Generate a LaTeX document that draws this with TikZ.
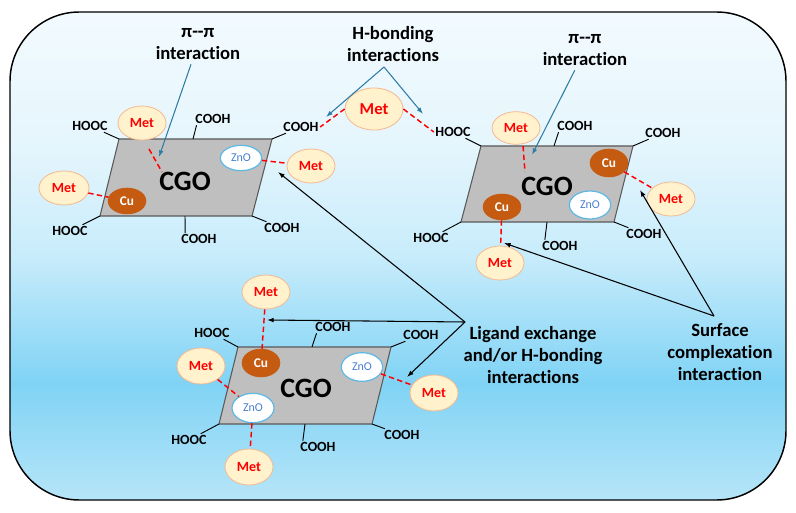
\documentclass[tikz,border=0pt]{standalone}
\usepackage{fontspec}
\setmainfont{Carlito}[Ligatures={NoCommon,NoRare,NoContextual,TeX},Contextuals=NoAlternate]
\usetikzlibrary{shapes.geometric,arrows.meta,calc}
\definecolor{bgB}{RGB}{182,229,248}
\definecolor{bgM}{RGB}{128,211,245}
\definecolor{bgC}{RGB}{200,236,251}
\definecolor{bgD}{RGB}{230,246,253}
\definecolor{bgT}{RGB}{242,250,254}
\definecolor{metF}{HTML}{FFF2CC}
\definecolor{metB}{HTML}{F5B88F}
\definecolor{cuF}{HTML}{C55A11}
\definecolor{znB}{HTML}{5CB8E6}
\definecolor{znT}{HTML}{4A7FD0}
\definecolor{plateF}{HTML}{BFBFBF}
\definecolor{plateB}{HTML}{595959}
\definecolor{arrB}{HTML}{2F7DA6}
\pgfdeclareverticalshading{bgshade}{100bp}{color(0bp)=(bgB); color(25bp)=(bgB); color(37bp)=(bgM); color(50bp)=(bgC); color(62bp)=(bgD); color(75bp)=(bgT); color(100bp)=(bgT)}
\begin{document}
\begin{tikzpicture}[x=0.75pt,y=-0.75pt,
  met/.style={ellipse, draw=metB, fill=metF, line width=0.6pt, inner sep=0pt,
    minimum width=36pt, minimum height=25.5pt, text=red,
    font=\bfseries\fontsize{10.5}{12}\selectfont},
  bigmet/.style={met, minimum width=43.5pt, minimum height=31.5pt,
    font=\bfseries\fontsize{12.5}{14}\selectfont},
  cu/.style={ellipse, fill=cuF, draw=cuF, inner sep=0pt, minimum width=28.5pt,
    minimum height=19.5pt, text=white, font=\bfseries\fontsize{10}{12}\selectfont},
  zno/.style={ellipse, draw=znB, fill=white, line width=0.9pt, inner sep=0pt,
    minimum width=31pt, minimum height=19pt, text=znT,
    font=\fontsize{9}{10}\selectfont},
  grp/.style={inner sep=1pt, font=\bfseries\fontsize{10.5}{12}\selectfont},
  tie/.style={draw=black, line width=0.7pt},
  plate/.style={fill=plateF, draw=plateB, line width=0.8pt},
  cgo/.style={font=\bfseries\fontsize{21}{24}\selectfont},
  lbl/.style={align=center, font=\bfseries\fontsize{14}{16.5}\selectfont},
  rdash/.style={draw=red, line width=1.1pt, dash pattern=on 4pt off 2.5pt},
  barr/.style={draw=arrB, line width=0.8pt, -{Latex[length=5pt,width=3.5pt]}},
  karr/.style={draw=black, line width=0.8pt, -{Latex[length=5pt,width=3.5pt]}}]
\useasboundingbox (0,0) rectangle (796,513);
\fill[white] (0,0) rectangle (796,513);
\path[shading=bgshade, draw=black, line width=1.1pt, rounded corners=52pt] (10,12) rectangle (786,500);

% ---------- top-left CGO ----------
\coordinate (a1) at (119,139); \coordinate (b1) at (272,139);
\coordinate (c1) at (252,216); \coordinate (d1) at (100,216);
\coordinate (e1) at (193,139); \coordinate (f1) at (185,216);
\path[plate] (a1)--(b1)--(c1)--(d1)--cycle;
\node[cgo] (cgo1) at (185,181) {CGO};
\node[met] (m1a) at (142,123) {Met};
\node[zno] (z1) at (241,158) {ZnO};
\node[met] (m1b) at (311,166) {Met};
\node[met, minimum width=37.5pt] (m1c) at (64,188) {Met};
\node[cu] (cu1) at (127,201) {Cu};
\node[grp] (g1a) at (90,126) {HOOC};
\node[grp] (g1b) at (213,119) {COOH};
\node[grp] (g1c) at (301,127) {COOH};
\node[grp] (g1d) at (70,231) {HOOC};
\node[grp] (g1e) at (199,239) {COOH};
\node[grp] (g1f) at (282,228) {COOH};
\draw[tie] (g1a) -- (a1);
\draw[tie] ([xshift=2pt]g1b.south west) -- (e1);
\draw[tie] (g1c) -- (b1);
\draw[tie] (g1d) -- (d1);
\draw[tie] ([xshift=4pt]g1e.north west) -- (f1);
\draw[tie] (g1f) -- (c1);
\coordinate (pp1s) at (149,149); \coordinate (pp1e) at (162,172);
\draw[rdash] (pp1s) -- (pp1e);
\draw[rdash] (z1) -- (m1b);
\draw[rdash] (m1c) -- (cu1);
\node[lbl] (L1) at (198,44) {π-{}-π\\interaction};
\coordinate (p1) at (159,157);
\draw[barr] (L1) -- (p1);

% ---------- H-bonding ----------
\node[lbl] (L3) at (393,44) {H-bonding\\interactions};
\node[bigmet] (mh) at (374,109) {Met};
\coordinate (hb) at (384,67);
\coordinate (hl) at (326,117);
\coordinate (hr) at (423,114);

% ---------- top-right CGO ----------
\coordinate (a2) at (481,146); \coordinate (b2) at (633,146);
\coordinate (c2) at (614,222); \coordinate (d2) at (461,222);
\coordinate (e2) at (554,146); \coordinate (f2) at (547,222);
\path[plate] (a2)--(b2)--(c2)--(d2)--cycle;
\node[cgo] (cgo2) at (547,186) {CGO};
\node[met, minimum height=24.5pt] (m2a) at (516,128) {Met};
\node[cu, minimum height=21pt] (cu2a) at (609,163) {Cu};
\node[met] (m2b) at (671,199) {Met};
\node[zno, minimum height=21pt] (z2) at (590,205) {ZnO};
\node[cu] (cu2b) at (502,207) {Cu};
\node[met] (m2c) at (500,263) {Met};
\node[grp] (g2a) at (453,132) {HOOC};
\node[grp] (g2b) at (575,126) {COOH};
\node[grp] (g2c) at (663,133) {COOH};
\node[grp] (g2d) at (431,238) {HOOC};
\node[grp] (g2e) at (560,246) {COOH};
\node[grp] (g2f) at (644,234) {COOH};
\draw[tie] (g2a) -- (a2);
\draw[tie] ([xshift=2pt]g2b.south west) -- (e2);
\draw[tie] (g2c) -- (b2);
\draw[tie] (g2d) -- (d2);
\draw[tie] ([xshift=3pt]g2e.north west) -- (f2);
\draw[tie] (g2f) -- (c2);
\coordinate (pp2s) at (523,146); \coordinate (pp2e) at (525,172);
\draw[rdash] (pp2s) -- (pp2e);
\draw[rdash] (cu2a) -- (m2b);
\draw[rdash] (cu2b) -- (m2c);
\node[lbl] (L2) at (585,50) {π-{}-π\\interaction};
\coordinate (p2) at (532,155);
\draw[barr] (L2) -- (p2);

% H-bond connectors
\draw[rdash] (mh.west) -- (g1c.east);
\draw[rdash] (mh.east) -- (g2a.west);
\draw[barr] (hb) -- (hl);
\draw[barr] (hb) -- (hr);

% ---------- bottom CGO ----------
\coordinate (a3) at (238,347); \coordinate (b3) at (391,347);
\coordinate (c3) at (372,424); \coordinate (d3) at (219,424);
\coordinate (e3) at (312,347); \coordinate (f3) at (305,424);
\path[plate] (a3)--(b3)--(c3)--(d3)--cycle;
\node[cgo] (cgo3) at (306,388) {CGO};
\node[cu, minimum height=21pt] (cu3) at (261,363) {Cu};
\node[met] (m3a) at (266,292) {Met};
\node[zno, minimum height=21.5pt] (z3a) at (362,367) {ZnO};
\node[met, minimum height=27pt] (m3b) at (434,393) {Met};
\node[met, minimum height=27pt] (m3c) at (201,366) {Met};
\node[zno, minimum width=31.5pt, minimum height=22pt] (z3b) at (253,408) {ZnO};
\node[met, minimum height=27pt] (m3d) at (249,467) {Met};
\node[grp] (g3a) at (212,333) {HOOC};
\node[grp] (g3b) at (333,327) {COOH};
\node[grp] (g3c) at (421,335) {COOH};
\node[grp] (g3d) at (189,440) {HOOC};
\node[grp] (g3e) at (318,447) {COOH};
\node[grp] (g3f) at (402,435) {COOH};
\draw[tie] (g3a) -- (a3);
\draw[tie] ([xshift=2pt]g3b.south west) -- (e3);
\draw[tie] (g3c) -- (b3);
\draw[tie] (g3d) -- (d3);
\draw[tie] ([xshift=3pt]g3e.north west) -- (f3);
\draw[tie] (g3f) -- (c3);
\draw[rdash] (m3a) -- (cu3);
\draw[rdash] (z3a) -- (m3b);
\draw[rdash] (m3c) -- (z3b);
\draw[rdash] (z3b) -- (m3d);

% ---------- Ligand exchange ----------
\node[lbl] (L4) at (533,355) {Ligand exchange\\and/or H-bonding\\interactions};
\coordinate (lg) at (465,322);
\coordinate (q1) at (278,172);
\coordinate (q2) at (267,320);
\coordinate (q3) at (407,377);
\draw[karr] (lg) -- (q1);
\draw[karr] (lg) -- (q2);
\draw[karr] (lg) -- (q3);

% ---------- Surface complexation ----------
\node[lbl] (L5) at (720,352) {Surface\\complexation\\interaction};
\coordinate (sc) at (714,316);
\coordinate (r1) at (640,190);
\coordinate (r2) at (504,243);
\draw[karr] (sc) -- (r1);
\draw[karr] (sc) -- (r2);
\end{tikzpicture}
\end{document}
